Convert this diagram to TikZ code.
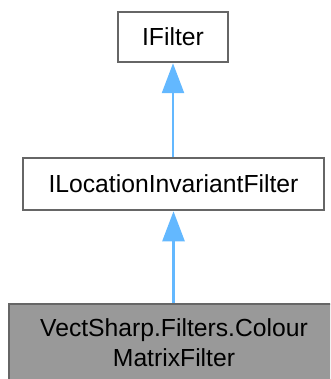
\documentclass[tikz,border=0pt]{standalone}
\usepackage{fontspec}
\setmainfont{Liberation Sans}
\usetikzlibrary{arrows.meta}
\definecolor{edgeblue}{HTML}{63B8FF}
\definecolor{boxline}{HTML}{666666}
\definecolor{boxfill}{HTML}{999999}
\tikzset{
  classbox/.style={draw=boxline, line width=2.5pt, fill=white, inner sep=0pt,
    font=\fontsize{24.7}{30}\selectfont, align=center},
  current/.style={classbox, fill=boxfill},
  inherit/.style={draw=edgeblue, line width=2.5pt,
    -{Triangle[length=30pt,width=22pt,fill=edgeblue]}}
}
\begin{document}
\begin{tikzpicture}[x=1pt,y=-1pt]
  \useasboundingbox (0,0) rectangle (330,379);
  \clip (0,0) rectangle (330,379);
  \node[classbox, minimum width=110pt, minimum height=50pt] (ifilter) at (173,37) {IFilter};
  \node[classbox, minimum width=301pt, minimum height=52pt] (iloc) at (173.5,184) {ILocationInvariantFilter};
  \node[current, minimum width=330pt, minimum height=78pt] (cmf) at (174,343)
    {VectSharp.Filters.Colour\\MatrixFilter};
  \draw[inherit] (iloc.north -| ifilter.south) -- (ifilter.south);
  \draw[inherit] (cmf.north -| iloc.south) -- (iloc.south);
\end{tikzpicture}
\end{document}
